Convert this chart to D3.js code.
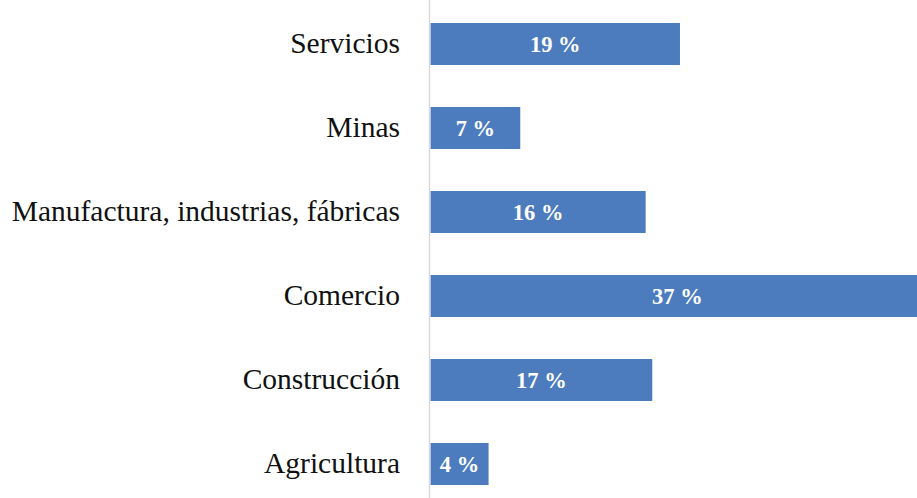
<!DOCTYPE html>
<meta charset="utf-8">
<html lang="es">
<head>
<style>
  body { margin: 0; background: #fff; }
  .cat { font-family: "Liberation Serif", serif; font-size: 29.5px; fill: #111; }
  .val { font-family: "Liberation Serif", serif; font-size: 22.5px; font-weight: bold; fill: #fff; }
</style>
</head>
<body>
<div id="chart"></div>
<script src="https://d3js.org/d3.v7.min.js"></script>
<script>
// categories top to bottom, and their shares in percent
var categories = ["Servicios", "Minas", "Manufactura, industrias, fábricas", "Comercio", "Construcción", "Agricultura"];
var values = [18.9, 6.8, 16.3, 37.4, 16.8, 4.4];

var width = 917, height = 498;

var svg = d3.select("#chart")
  .append("svg")
    .attr("width", width)
    .attr("height", height);

// x scale starts at the axis line
var x = d3.scaleLinear()
  .domain([0, 40])
  .range([430.5, 430.5 + 40 * 13.2]);

var y = d3.scaleBand()
  .domain(categories)
  .range([2, 506])
  .paddingInner(0.5)
  .paddingOuter(0.25);

var data = categories.map(function (c, i) { return {cat: c, v: values[i]}; });

// bars
svg.append("g")
  .selectAll("rect")
  .data(data)
  .enter()
  .append("rect")
    .attr("x", x(0))
    .attr("y", function (d) { return y(d.cat); })
    .attr("width", function (d) { return x(d.v) - x(0); })
    .attr("height", y.bandwidth())
    .style("fill", "#4c7cbe");

// axis line
svg.append("line")
  .attr("x1", 429.5).attr("x2", 429.5)
  .attr("y1", 0).attr("y2", height)
  .style("stroke", "#d9d9d9")
  .style("stroke-width", 1.5);

// category labels
svg.append("g")
  .selectAll("text")
  .data(data)
  .enter()
  .append("text")
    .attr("class", "cat")
    .attr("text-anchor", "end")
    .attr("x", 400)
    .attr("y", function (d) { return y(d.cat) + y.bandwidth() / 2; })
    .attr("dy", "0.3em")
    .text(function (d) { return d.cat; });

// value labels, centred on each bar
svg.append("g")
  .selectAll("text")
  .data(data)
  .enter()
  .append("text")
    .attr("class", "val")
    .attr("text-anchor", "middle")
    .attr("x", function (d) { return (x(0) + x(d.v)) / 2; })
    .attr("y", function (d) { return y(d.cat) + y.bandwidth() / 2; })
    .attr("dy", "0.35em")
    .text(function (d) { return Math.round(d.v) + " %"; });
</script>
</body>
</html>
